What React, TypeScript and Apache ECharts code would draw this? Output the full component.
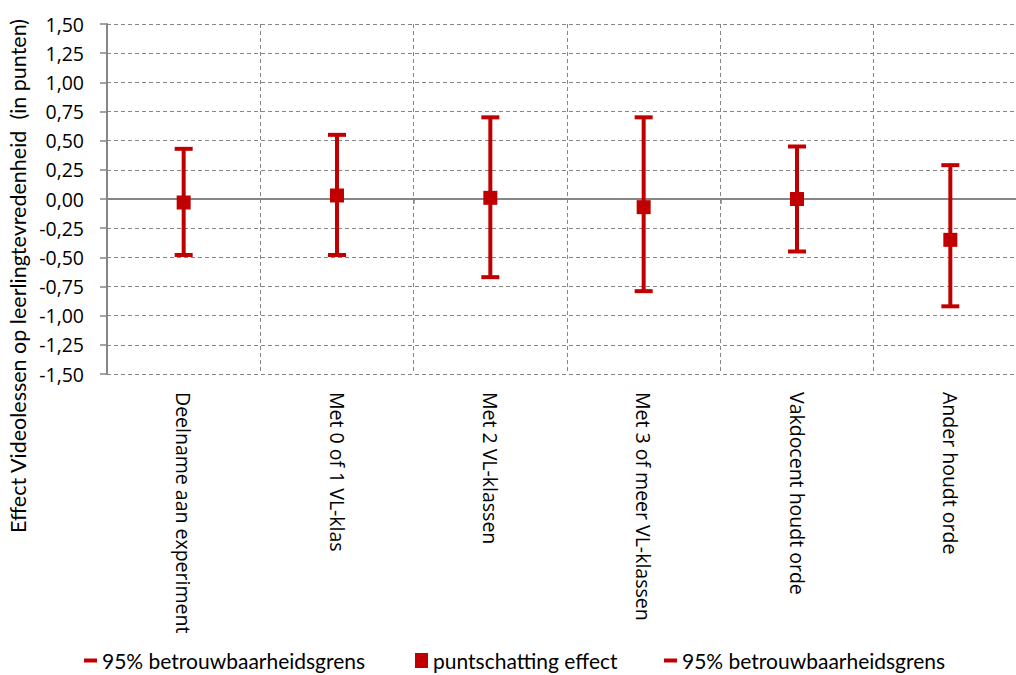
import React, { useEffect, useRef } from "react";
import * as echarts from "echarts";

const categories = [
  "Deelname aan experiment",
  "Met 0 of 1 VL-klas",
  "Met 2 VL-klassen",
  "Met 3 of meer VL-klassen",
  "Vakdocent houdt orde",
  "Ander houdt orde",
];
const pointEstimates = [-0.03, 0.03, 0.01, -0.07, 0.0, -0.35];
const upperBounds = [0.43, 0.55, 0.7, 0.7, 0.45, 0.29];
const lowerBounds = [-0.48, -0.48, -0.67, -0.79, -0.45, -0.92];
const ciName = "95% betrouwbaarheidsgrens";
const pointName = "puntschatting effect";
const yTitle = "Effect Videolessen op leerlingtevredenheid  (in punten)";

const RED = "#C00000";
const GRAY = "#868686";
const TICK_FONT = "'Open Sans', sans-serif";
const SIDE_FONT = "Lato, 'Open Sans', sans-serif";

export default function App() {
  const ref = useRef<HTMLDivElement>(null);
  useEffect(() => {
    if (!ref.current) return;
    const chart = echarts.init(ref.current, null, { renderer: "svg" });
    const legendText = { fontFamily: SIDE_FONT, fontSize: 21, color: "#000" };
    chart.setOption({
      animation: false,
      grid: {
        left: 107,
        top: 24,
        width: 920,
        height: 350,
        containLabel: false,
        outerBoundsMode: "none",
      },
      xAxis: [
        {
          type: "category",
          data: categories,
          position: "bottom",
          axisLine: { show: false, onZero: false },
          axisTick: { show: false },
          axisLabel: {
            rotate: -90,
            margin: 18,
            fontFamily: TICK_FONT,
            fontSize: 19.5,
            color: "#000",
            interval: 0,
          },
          splitLine: { show: true, lineStyle: { color: GRAY, type: [4, 3], width: 1 } },
        },
        {
          type: "category",
          data: categories,
          position: "top",
          axisLine: { show: true, onZero: true, lineStyle: { color: GRAY, width: 2 } },
          axisTick: { show: true, inside: true, length: 5, lineStyle: { color: GRAY, width: 1.5 } },
          axisLabel: { show: false },
          splitLine: { show: false },
        },
      ],
      yAxis: {
        type: "value",
        min: -1.5,
        max: 1.5,
        interval: 0.25,
        axisLine: { show: true, lineStyle: { color: GRAY, width: 2 } },
        axisTick: { show: true, length: 7, lineStyle: { color: GRAY, width: 1.5 } },
        axisLabel: {
          margin: 23,
          fontFamily: TICK_FONT,
          fontSize: 19.5,
          color: "#000",
          formatter: (v: number) => v.toFixed(2).replace(".", ","),
        },
        splitLine: { show: true, lineStyle: { color: GRAY, type: [4, 3], width: 1 } },
      },
      legend: [
        {
          left: 84,
          top: 650,
          data: [{ name: ciName, icon: "rect" }],
          itemWidth: 13,
          itemHeight: 4,
          textStyle: legendText,
          padding: 0,
        },
        {
          left: 415,
          top: 650,
          data: [{ name: pointName, icon: "rect" }],
          itemWidth: 13,
          itemHeight: 15,
          textStyle: legendText,
          padding: 0,
        },
        {
          left: 664,
          top: 650,
          data: [{ name: ciName, icon: "rect" }],
          itemWidth: 13,
          itemHeight: 4,
          textStyle: legendText,
          padding: 0,
        },
      ],
      graphic: [
        {
          type: "text",
          x: 18,
          y: 276,
          rotation: Math.PI / 2,
          style: {
            text: yTitle,
            fontFamily: SIDE_FONT,
            fontSize: 21.5,
            fill: "#000",
            align: "center",
            verticalAlign: "middle",
          },
        },
      ],
      series: [
        {
          type: "custom",
          name: "errorbar",
          xAxisIndex: 0,
          data: categories.map((_, i) => [i, lowerBounds[i], upperBounds[i]]),
          encode: { x: 0, y: [1, 2] },
          renderItem: (_params: any, api: any) => {
            const idx = api.value(0);
            const lo = api.coord([idx, api.value(1)]);
            const hi = api.coord([idx, api.value(2)]);
            return {
              type: "line",
              shape: { x1: lo[0], y1: lo[1], x2: hi[0], y2: hi[1] },
              style: { stroke: RED, lineWidth: 4 },
            };
          },
          z: 2,
        },
        {
          type: "scatter",
          name: ciName,
          xAxisIndex: 0,
          data: lowerBounds,
          symbol: "rect",
          symbolSize: [18, 4],
          itemStyle: { color: RED, opacity: 1 },
          z: 3,
        },
        {
          type: "scatter",
          name: pointName,
          xAxisIndex: 0,
          data: pointEstimates,
          symbol: "rect",
          symbolSize: [14, 14],
          itemStyle: { color: RED, opacity: 1 },
          z: 4,
        },
        {
          type: "scatter",
          name: ciName + " ",
          xAxisIndex: 0,
          data: upperBounds,
          symbol: "rect",
          symbolSize: [18, 4],
          itemStyle: { color: RED, opacity: 1 },
          z: 3,
        },
      ],
    });
    return () => chart.dispose();
  }, []);
  return (
    <div
      ref={ref}
      style={{ position: "absolute", left: 0, top: 0, width: 1016, height: 675 }}
    />
  );
}
